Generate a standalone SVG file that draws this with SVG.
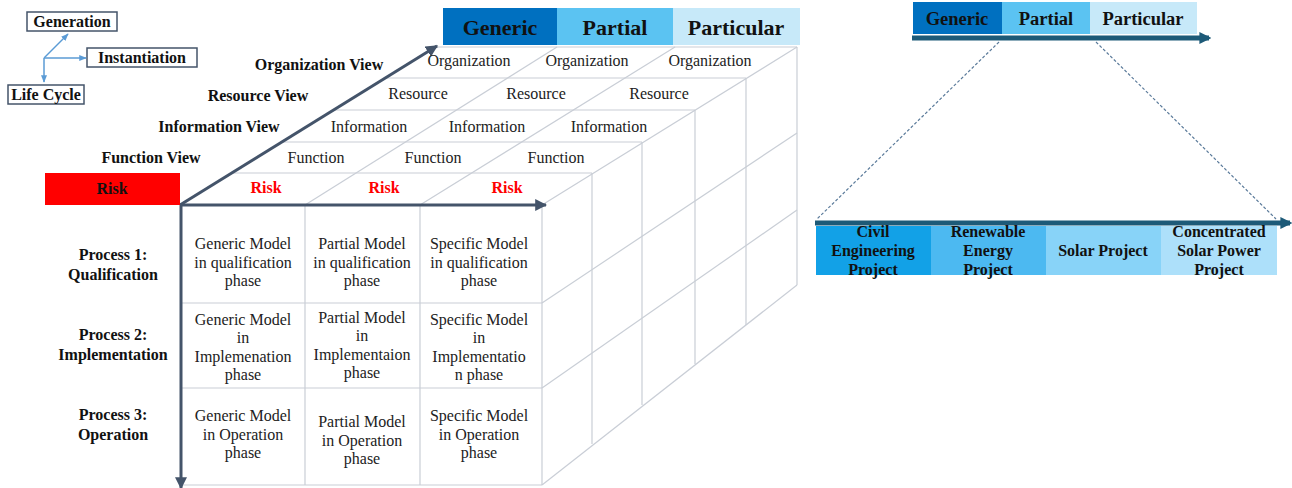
<svg xmlns="http://www.w3.org/2000/svg" width="1292" height="488" viewBox="0 0 1292 488">
<defs>
<style>
.g{stroke:#C9CED6;stroke-width:1.2;fill:none}
.ax{stroke:#44546A;stroke-width:3;fill:none}
.t{font-family:"Liberation Serif","Times New Roman",serif;font-size:16px;fill:#222;text-anchor:middle}
.b{font-family:"Liberation Serif","Times New Roman",serif;font-size:16px;font-weight:bold;fill:#111;text-anchor:middle}
.r{font-family:"Liberation Serif","Times New Roman",serif;font-size:16px;font-weight:bold;fill:#FF0000;text-anchor:middle}
.h{font-family:"Liberation Serif","Times New Roman",serif;font-size:22px;font-weight:bold;fill:#111;text-anchor:middle}
.h2{font-family:"Liberation Serif","Times New Roman",serif;font-size:18.5px;font-weight:bold;fill:#111;text-anchor:middle}
.lg{fill:#fff;stroke:#44546A;stroke-width:1.5}
.la{stroke:#5B9BD5;stroke-width:1.5;fill:none}
.dash{stroke:#5A7A9A;stroke-width:1.2;stroke-dasharray:3 2;fill:none}
.tl{stroke:#1D5A78;stroke-width:5;fill:none}
</style>
<marker id="ah" viewBox="0 0 10 10" refX="9" refY="5" markerWidth="4" markerHeight="4" orient="auto"><path d="M0,0L10,5L0,10z" fill="#44546A"/></marker>
<marker id="lah" viewBox="0 0 10 10" refX="9" refY="5" markerWidth="5" markerHeight="5" orient="auto"><path d="M0,1L10,5L0,9z" fill="#5B9BD5"/></marker>
<marker id="tah" viewBox="0 0 10 10" refX="8" refY="5" markerWidth="2.4" markerHeight="2.4" orient="auto"><path d="M0,0L10,5L0,10z" fill="#1D5A78"/></marker>
</defs>

<g id="legend">
<rect class="lg" x="27" y="12" width="90" height="19"/>
<text class="b" x="72" y="27">Generation</text>
<rect class="lg" x="87" y="48" width="110" height="19"/>
<text class="b" x="142" y="63">Instantiation</text>
<rect class="lg" x="8" y="85" width="76" height="19"/>
<text class="b" x="46" y="100">Life Cycle</text>
<line class="la" x1="44" y1="58" x2="68" y2="34" marker-end="url(#lah)"/>
<line class="la" x1="44" y1="58" x2="86" y2="58" marker-end="url(#lah)"/>
<line class="la" x1="44" y1="58" x2="44" y2="82" marker-end="url(#lah)"/>
</g>

<g id="cube-headers">
<rect x="443" y="8" width="114" height="37" fill="#0070C0"/>
<rect x="557" y="8" width="116" height="37" fill="#5BC3F2"/>
<rect x="673" y="8" width="127" height="37" fill="#C7E9F9"/>
<text class="h" x="500" y="35">Generic</text>
<text class="h" x="615" y="35">Partial</text>
<text class="h" x="736" y="35">Particular</text>
</g>

<g id="grid">
<line class="g" x1="231" y1="173" x2="592" y2="173"/>
<line class="g" x1="281" y1="142" x2="642" y2="142"/>
<line class="g" x1="333" y1="110" x2="695" y2="110"/>
<line class="g" x1="384" y1="78" x2="746" y2="78"/>
<line class="g" x1="435" y1="47" x2="797" y2="47"/>
<line class="g" x1="305" y1="205" x2="557" y2="47"/>
<line class="g" x1="420" y1="205" x2="675" y2="47"/>
<line class="g" x1="542" y1="205" x2="797" y2="47"/>
<line class="g" x1="305" y1="205" x2="305" y2="485"/>
<line class="g" x1="420" y1="205" x2="420" y2="485"/>
<line class="g" x1="542" y1="205" x2="542" y2="485"/>
<line class="g" x1="180" y1="303" x2="542" y2="303"/>
<line class="g" x1="180" y1="388" x2="542" y2="388"/>
<line class="g" x1="180" y1="485" x2="542" y2="485"/>
<line class="g" x1="592" y1="173" x2="592" y2="444"/>
<line class="g" x1="642" y1="142" x2="642" y2="405"/>
<line class="g" x1="695" y1="110" x2="695" y2="364"/>
<line class="g" x1="746" y1="78" x2="746" y2="325"/>
<line class="g" x1="797" y1="47" x2="797" y2="285"/>
<line class="g" x1="542" y1="303" x2="797" y2="133"/>
<line class="g" x1="542" y1="388" x2="797" y2="210"/>
<line class="g" x1="542" y1="485" x2="797" y2="285"/>
</g>

<g id="connectors">
<line class="ax" x1="180" y1="205" x2="437" y2="46" marker-end="url(#ah)"/>
<line class="ax" x1="180" y1="205" x2="546" y2="205" marker-end="url(#ah)"/>
<line class="ax" x1="181" y1="205" x2="181" y2="488" marker-end="url(#ah)"/>
</g>

<g id="risk-box">
<rect x="45" y="173" width="135" height="32" fill="#FF0000"/>
<text class="b" x="112" y="194">Risk</text>
</g>

<g id="view-labels">
<text class="b" x="319" y="70">Organization View</text>
<text class="b" x="258" y="101">Resource View</text>
<text class="b" x="219" y="132">Information View</text>
<text class="b" x="151" y="163">Function View</text>
</g>

<g id="top-face-labels">
<text class="t" x="469" y="66">Organization</text>
<text class="t" x="587" y="66">Organization</text>
<text class="t" x="710" y="66">Organization</text>
<text class="t" x="418" y="99">Resource</text>
<text class="t" x="536" y="99">Resource</text>
<text class="t" x="659" y="99">Resource</text>
<text class="t" x="369" y="132">Information</text>
<text class="t" x="487" y="132">Information</text>
<text class="t" x="609" y="132">Information</text>
<text class="t" x="316" y="163">Function</text>
<text class="t" x="433" y="163">Function</text>
<text class="t" x="556" y="163">Function</text>
<text class="r" x="266" y="193">Risk</text>
<text class="r" x="384" y="193">Risk</text>
<text class="r" x="507" y="193">Risk</text>
</g>

<g id="process-labels">
<text class="b" x="113" y="260">Process 1:</text>
<text class="b" x="113" y="280">Qualification</text>
<text class="b" x="113" y="340">Process 2:</text>
<text class="b" x="113" y="360">Implementation</text>
<text class="b" x="113" y="420">Process 3:</text>
<text class="b" x="113" y="440">Operation</text>
</g>

<g id="cells-row1">
<text class="t" x="243" y="249">Generic Model</text>
<text class="t" x="243" y="268">in qualification</text>
<text class="t" x="243" y="286">phase</text>
<text class="t" x="362" y="249">Partial Model</text>
<text class="t" x="362" y="268">in qualification</text>
<text class="t" x="362" y="286">phase</text>
<text class="t" x="479" y="249">Specific Model</text>
<text class="t" x="479" y="268">in qualification</text>
<text class="t" x="479" y="286">phase</text>
</g>
<g id="cells-row2">
<text class="t" x="243" y="325">Generic Model</text>
<text class="t" x="243" y="343">in</text>
<text class="t" x="243" y="362">Implemenation</text>
<text class="t" x="243" y="380">phase</text>
<text class="t" x="362" y="323">Partial Model</text>
<text class="t" x="362" y="341">in</text>
<text class="t" x="362" y="360">Implementaion</text>
<text class="t" x="362" y="378">phase</text>
<text class="t" x="479" y="325">Specific Model</text>
<text class="t" x="479" y="343">in</text>
<text class="t" x="479" y="362">Implementatio</text>
<text class="t" x="479" y="380">n phase</text>
</g>
<g id="cells-row3">
<text class="t" x="243" y="421">Generic Model</text>
<text class="t" x="243" y="440">in Operation</text>
<text class="t" x="243" y="458">phase</text>
<text class="t" x="362" y="427">Partial Model</text>
<text class="t" x="362" y="446">in Operation</text>
<text class="t" x="362" y="464">phase</text>
<text class="t" x="479" y="421">Specific Model</text>
<text class="t" x="479" y="440">in Operation</text>
<text class="t" x="479" y="458">phase</text>
</g>

<g id="right-header">
<rect x="913" y="2" width="89" height="32" fill="#0070C0"/>
<rect x="1002" y="2" width="88" height="32" fill="#5BC3F2"/>
<rect x="1090" y="2" width="107" height="32" fill="#C7E9F9"/>
<text class="h2" x="957" y="25">Generic</text>
<text class="h2" x="1046" y="25">Partial</text>
<text class="h2" x="1143" y="25">Particular</text>
<line class="tl" x1="912" y1="38" x2="1209" y2="38" marker-end="url(#tah)"/>
</g>

<g id="zoom-lines">
<line class="dash" x1="999" y1="42" x2="817" y2="219"/>
<line class="dash" x1="1096" y1="42" x2="1276" y2="219"/>
</g>

<g id="right-projects">
<line class="tl" x1="815" y1="223" x2="1290" y2="223" marker-end="url(#tah)"/>
<rect x="816" y="226" width="115" height="49" fill="#12A1E7"/>
<rect x="931" y="226" width="115" height="49" fill="#4CB9F1"/>
<rect x="1046" y="226" width="115" height="49" fill="#88D3F8"/>
<rect x="1161" y="226" width="116" height="49" fill="#ADE0FA"/>
<text class="b" x="873" y="237">Civil</text>
<text class="b" x="873" y="256">Engineering</text>
<text class="b" x="873" y="275">Project</text>
<text class="b" x="988" y="237">Renewable</text>
<text class="b" x="988" y="256">Energy</text>
<text class="b" x="988" y="275">Project</text>
<text class="b" x="1103" y="256">Solar Project</text>
<text class="b" x="1219" y="237">Concentrated</text>
<text class="b" x="1219" y="256">Solar Power</text>
<text class="b" x="1219" y="275">Project</text>
</g>
</svg>
